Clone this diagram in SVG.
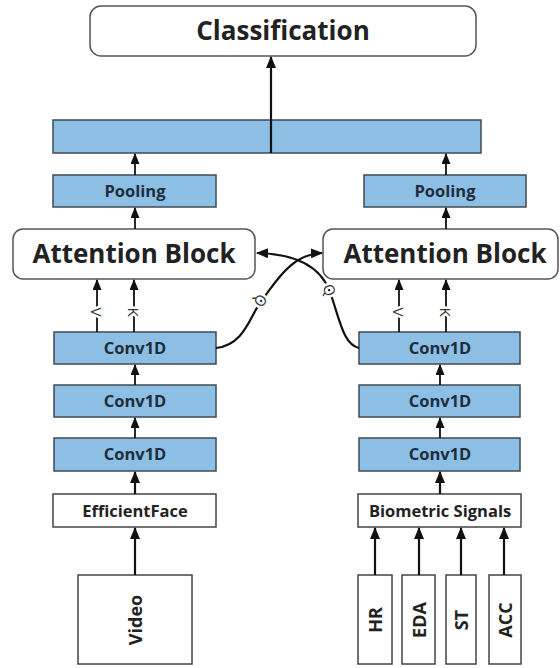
<svg xmlns="http://www.w3.org/2000/svg" width="560" height="668" viewBox="0 0 560 668">
<style>
.rbox{fill:#ffffff;stroke:#555555;stroke-width:1.5}
.blue{fill:#8cbfe3;stroke:#3f4a55;stroke-width:1.5}
.wbox{fill:#ffffff;stroke:#444444;stroke-width:1.5}
.big{font-family:"Open Sans","Liberation Sans",sans-serif;font-weight:bold;font-size:26px;fill:#222222;text-anchor:middle;dominant-baseline:central}
.mid{font-family:"Open Sans","Liberation Sans",sans-serif;font-weight:bold;font-size:16.5px;fill:#1e2d3c;text-anchor:middle;dominant-baseline:central}
.lbl{font-family:"Open Sans","Liberation Sans",sans-serif;font-weight:bold;font-size:18px;fill:#222222;text-anchor:middle;dominant-baseline:central}
.small{font-family:"Open Sans","Liberation Sans",sans-serif;font-size:15px;fill:#333333;text-anchor:middle;dominant-baseline:central;stroke:#ffffff;stroke-width:5px;paint-order:stroke}
.ln{fill:none;stroke:#111111;stroke-width:2.2}
.thin{fill:none;stroke:#111111;stroke-width:1.8}
</style>
<defs>
<marker id="ah" viewBox="0 0 12 10" refX="11" refY="5" markerWidth="12" markerHeight="10" orient="auto" markerUnits="userSpaceOnUse"><path d="M0,0 L12,5 L0,10 z" fill="#111111"/></marker>
<marker id="ahs" viewBox="0 0 12 10" refX="11" refY="5" markerWidth="11" markerHeight="9" orient="auto" markerUnits="userSpaceOnUse"><path d="M0,0 L12,5 L0,10 z" fill="#111111"/></marker>
</defs>

<g id="classification"><rect class="rbox" x="90" y="6" width="386" height="50" rx="11"/><text class="big" x="283" y="30">Classification</text></g>
<g id="concat"><rect class="blue" x="53" y="120" width="428" height="33"/></g>
<g id="pool-left"><rect class="blue" x="53" y="175" width="163" height="32"/><text class="mid" x="135" y="190">Pooling</text></g>
<g id="pool-right"><rect class="blue" x="364" y="175" width="162" height="32"/><text class="mid" x="445" y="190">Pooling</text></g>
<g id="att-left"><rect class="rbox" x="13" y="229" width="242" height="50" rx="10"/><text class="big" x="134" y="253">Attention Block</text></g>
<g id="att-right"><rect class="rbox" x="323" y="229" width="235" height="50" rx="10"/><text class="big" x="445" y="253">Attention Block</text></g>
<g id="conv-l1"><rect class="blue" x="54" y="332" width="162" height="32"/><text class="mid" x="135" y="347">Conv1D</text></g>
<g id="conv-l2"><rect class="blue" x="54" y="385" width="162" height="32"/><text class="mid" x="135" y="400">Conv1D</text></g>
<g id="conv-l3"><rect class="blue" x="54" y="438" width="162" height="33"/><text class="mid" x="135" y="453">Conv1D</text></g>
<g id="conv-r1"><rect class="blue" x="359" y="332" width="161" height="32"/><text class="mid" x="440" y="347">Conv1D</text></g>
<g id="conv-r2"><rect class="blue" x="359" y="385" width="161" height="32"/><text class="mid" x="440" y="400">Conv1D</text></g>
<g id="conv-r3"><rect class="blue" x="359" y="438" width="161" height="33"/><text class="mid" x="440" y="453">Conv1D</text></g>
<g id="efficientface"><rect class="wbox" x="53" y="494" width="163" height="33"/><text class="mid" x="135" y="510" style="fill:#222">EfficientFace</text></g>
<g id="biometric"><rect class="wbox" x="358" y="494" width="163" height="33"/><text class="mid" x="440" y="510" style="fill:#222">Biometric Signals</text></g>
<g id="video"><rect class="wbox" x="78" y="575" width="114" height="89"/><text class="lbl" transform="translate(135,620) rotate(-90)">Video</text></g>
<g id="hr"><rect class="wbox" x="358" y="575" width="34" height="89"/><text class="lbl" transform="translate(375,620) rotate(-90)">HR</text></g>
<g id="eda"><rect class="wbox" x="402" y="575" width="33" height="89"/><text class="lbl" transform="translate(419,620) rotate(-90)">EDA</text></g>
<g id="st"><rect class="wbox" x="446" y="575" width="30" height="89"/><text class="lbl" transform="translate(461,620) rotate(-90)">ST</text></g>
<g id="acc"><rect class="wbox" x="489" y="575" width="32" height="89"/><text class="lbl" transform="translate(505,620) rotate(-90)">ACC</text></g>

<g id="connectors">
<line class="ln" x1="271" y1="153" x2="271" y2="57" marker-end="url(#ah)"/>
<line class="thin" x1="135" y1="175" x2="135" y2="154" marker-end="url(#ahs)"/>
<line class="thin" x1="446" y1="175" x2="446" y2="154" marker-end="url(#ahs)"/>
<line class="thin" x1="135" y1="229" x2="135" y2="208" marker-end="url(#ahs)"/>
<line class="thin" x1="446" y1="229" x2="446" y2="208" marker-end="url(#ahs)"/>
<line class="thin" x1="97" y1="332" x2="97" y2="280" marker-end="url(#ahs)"/>
<line class="thin" x1="134" y1="332" x2="134" y2="280" marker-end="url(#ahs)"/>
<line class="thin" x1="399" y1="332" x2="399" y2="280" marker-end="url(#ahs)"/>
<line class="thin" x1="446" y1="332" x2="446" y2="280" marker-end="url(#ahs)"/>
<text class="small" transform="translate(97,312) rotate(90)">V</text>
<text class="small" transform="translate(134,312) rotate(90)">K</text>
<text class="small" transform="translate(399,312) rotate(90)">V</text>
<text class="small" transform="translate(446,312) rotate(90)">K</text>
<line class="thin" x1="135" y1="385" x2="135" y2="365" marker-end="url(#ahs)"/>
<line class="thin" x1="135" y1="438" x2="135" y2="418" marker-end="url(#ahs)"/>
<line class="thin" x1="440" y1="385" x2="440" y2="365" marker-end="url(#ahs)"/>
<line class="thin" x1="440" y1="438" x2="440" y2="418" marker-end="url(#ahs)"/>
<line class="ln" x1="135" y1="494" x2="135" y2="472" marker-end="url(#ah)"/>
<line class="ln" x1="440" y1="494" x2="440" y2="472" marker-end="url(#ah)"/>
<line class="ln" x1="135" y1="575" x2="135" y2="528" marker-end="url(#ah)"/>
<line class="ln" x1="375" y1="575" x2="375" y2="528" marker-end="url(#ah)"/>
<line class="ln" x1="419" y1="575" x2="419" y2="528" marker-end="url(#ah)"/>
<line class="ln" x1="461" y1="575" x2="461" y2="528" marker-end="url(#ah)"/>
<line class="ln" x1="504" y1="575" x2="504" y2="528" marker-end="url(#ah)"/>
<path class="ln" d="M216,348 C245,345 250,315 262,300 C274,285 290,254 322,253" marker-end="url(#ah)"/>
<path class="ln" d="M359,348 C343,344 340,320 330,292 C322,270 300,254 257,253" marker-end="url(#ah)"/>
<text class="small" transform="translate(261,301) rotate(129)">Q</text>
<text class="small" transform="translate(330,290) rotate(70)">Q</text>
</g>
</svg>
